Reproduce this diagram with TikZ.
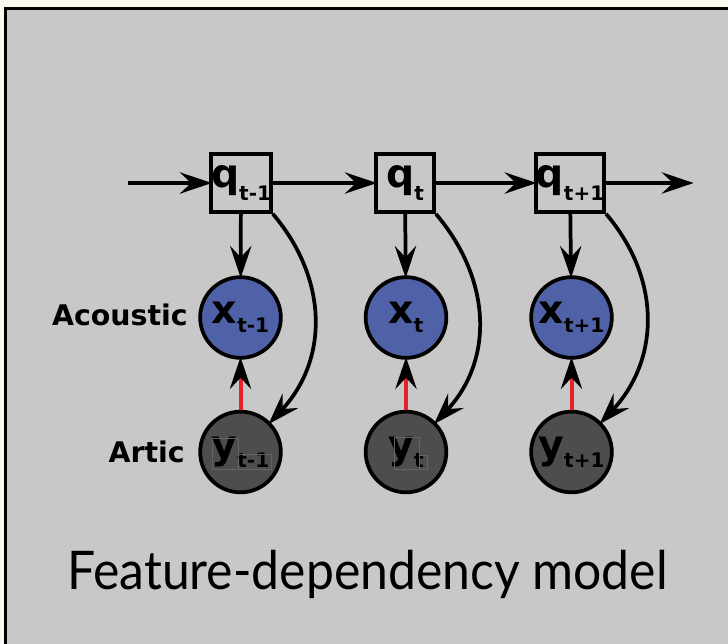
\documentclass[tikz,border=0pt]{standalone}
\usepackage{fontspec}
\setmainfont{DejaVu Sans}
\newfontfamily\titlefont{Lato}
\usetikzlibrary{arrows.meta}

\definecolor{paper}{HTML}{F9FAEE}
\definecolor{panel}{HTML}{C8C8C8}
\definecolor{acoustic}{HTML}{4F62A8}
\definecolor{artic}{HTML}{4E4C4C}
\definecolor{link}{HTML}{E8202A}
\definecolor{textframe}{HTML}{646262}

% variable with a lowered index (third argument: how far the index drops)
\newcommand{\varsub}[3]{#1\raisebox{-#3}{\fontsize{15}{15}\selectfont #2}}

\tikzset{
  every node/.style={font=\bfseries},
  state/.style={draw, line width=2.8pt, fill=panel, minimum size=43.5pt,
    inner sep=0pt, font=\fontsize{29.5}{29.5}\selectfont\bfseries},
  obs/.style={circle, draw, line width=2.8pt, minimum size=60.5pt,
    inner sep=0pt, font=\fontsize{29.5}{29.5}\selectfont\bfseries},
  acnode/.style={obs, fill=acoustic},
  arnode/.style={obs, fill=artic},
  tip/.style={-{Stealth[length=24pt,width=16pt,inset=8.5pt,#1]}},
  edge/.style={line width=2.8pt, tip={}, shorten >=-2pt},
  redge/.style={line width=3pt, draw=link, tip={color=black}, shorten >=-2pt},
  boxline/.style={draw=textframe, line width=0.45pt},
  rowlabel/.style={font=\fontsize{21.3}{21.3}\selectfont\bfseries, inner sep=0pt},
}

\begin{document}
\begin{tikzpicture}[x=0.75pt, y=-0.75pt]
  \useasboundingbox (0,0) rectangle (728,643);
  \fill[paper] (0,0) rectangle (728,643);
  \draw[line width=2.25pt, fill=panel] (5.5,8.5) rectangle (760,680);

  % hidden state chain
  \node[state] (q1) at (241,183) {\varsub{q}{t-1}{10pt}};
  \node[state] (q2) at (405,183) {\varsub{q}{t}{10pt}};
  \node[state] (q3) at (570,183) {\varsub{q}{t+1}{10pt}};

  % acoustic observations
  \node[acnode] (x1) at (240.5,317.5) {\varsub{x}{t-1}{6.5pt}};
  \node[acnode] (x2) at (406,317.5) {\varsub{x}{t}{6.5pt}};
  \node[acnode] (x3) at (571.5,317.5) {\varsub{x}{t+1}{6.5pt}};

  % articulatory features
  \node[arnode] (y1) at (240.5,452) {\varsub{y}{t-1}{6.5pt}};
  \node[arnode] (y2) at (406,452) {\varsub{y}{t}{6.5pt}};
  \node[arnode] (y3) at (571.5,452) {\varsub{y}{t+1}{6.5pt}};

  % thin frames left around the glyphs of the first two articulatory labels
  \draw[boxline] ([shift={(-28.5,-14)}]y1.center) rectangle ([shift={(-2.5,17)}]y1.center);
  \draw[boxline] ([shift={(-2.5,2)}]y1.center) rectangle ([shift={(30.5,17)}]y1.center);
  \draw[boxline] ([shift={(-12,-15)}]y2.center) rectangle ([shift={(13,17)}]y2.center);
  \draw[boxline] ([shift={(13,3)}]y2.center) rectangle ([shift={(21,17)}]y2.center);

  \node[rowlabel, anchor=base east] (lac) at (188,325) {Acoustic};
  \node[rowlabel, anchor=base east] (lar) at (185,462) {Artic};

  \coordinate (in) at (128,183);
  \coordinate (out) at (691,183);

  \draw[edge] (in) -- (q1);
  \draw[edge] (q1) -- (q2);
  \draw[edge] (q2) -- (q3);
  \draw[edge] (q3) -- (out);

  \foreach \i in {1,2,3} {
    \draw[edge] (q\i) -- (x\i);
    \draw[redge] (y\i) -- (x\i);
    \draw[edge] (q\i.south east) .. controls +(56,66) and +(58,-62) .. (y\i.north east);
  }

  \node[anchor=base west, inner sep=0pt, font=\titlefont\fontsize{40}{40}\selectfont] (title)
    at (67,589) {\scalebox{0.935}[1]{Feature-dependency model}};
\end{tikzpicture}
\end{document}
